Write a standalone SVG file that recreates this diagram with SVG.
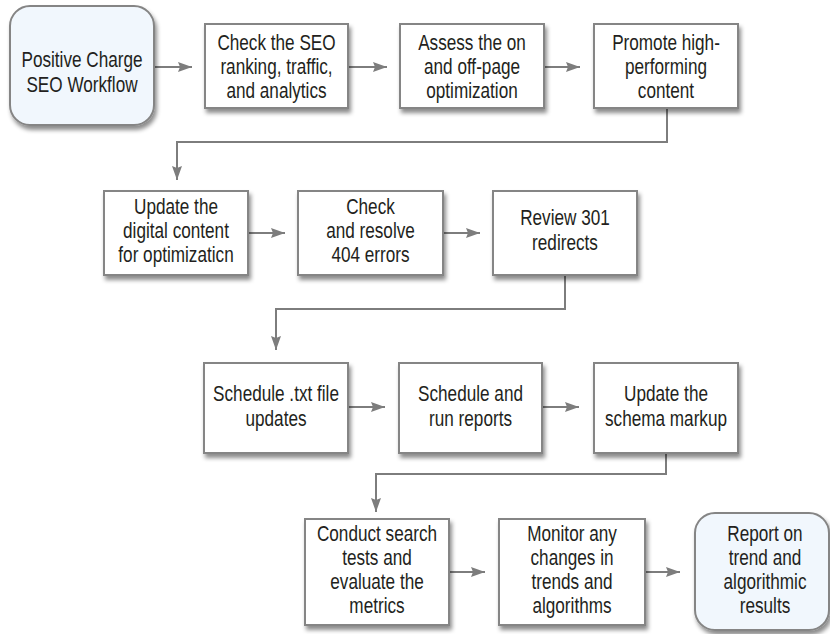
<svg xmlns="http://www.w3.org/2000/svg" width="830" height="634" viewBox="0 0 830 634">
  <defs>
    <filter id="shadow" x="-10%" y="-10%" width="130%" height="140%">
      <feDropShadow dx="2" dy="4" stdDeviation="2.2" flood-color="#000" flood-opacity="0.45"/>
    </filter>
    <marker id="arrow" viewBox="0 0 14 10" refX="14" refY="5" markerWidth="14" markerHeight="10" markerUnits="userSpaceOnUse" orient="auto">
      <path d="M0,0 L14,5 L0,10 L2,5 z" fill="#7d7d7d"/>
    </marker>
  </defs>
  <style>
    .box { fill: #ffffff; stroke: #858585; stroke-width: 2; filter: url(#shadow); }
    .term { fill: #f1f7fd; stroke: #858585; stroke-width: 2; filter: url(#shadow); }
    .lbl { font-family: "Liberation Sans", Arial, sans-serif; font-size: 22px; fill: #231f20; text-anchor: middle; }
    .link { fill: none; stroke: #7d7d7d; stroke-width: 2; marker-end: url(#arrow); }
  </style>
  <rect width="830" height="634" fill="#ffffff"/>

  <!-- connectors -->
  <g id="connectors">
    <path class="link" d="M155,67 H192"/>
    <path class="link" d="M348,67 H387"/>
    <path class="link" d="M544,67 H580"/>
    <path class="link" d="M667,108 V142 H177 V180"/>
    <path class="link" d="M248,233 H285"/>
    <path class="link" d="M443,233 H480"/>
    <path class="link" d="M565,275 V309 H276 V350"/>
    <path class="link" d="M348,407 H385"/>
    <path class="link" d="M542,407 H579"/>
    <path class="link" d="M666,453 V474 H376 V512"/>
    <path class="link" d="M449,572 H485"/>
    <path class="link" d="M645,572 H680"/>
  </g>

  <!-- labels use a horizontally condensed sans: each label block is centred with translate and narrowed with scale -->

  <!-- row 1 -->
  <g id="start">
    <rect class="term" x="10" y="6" width="144" height="119" rx="20"/>
    <g transform="translate(82 0) scale(0.78 1)">
      <text class="lbl" x="0" y="67">Positive Charge</text>
      <text class="lbl" x="0" y="92">SEO Workflow</text>
    </g>
  </g>
  <g id="check-seo">
    <rect class="box" x="205" y="24" width="143" height="84"/>
    <g transform="translate(276.5 0) scale(0.78 1)">
      <text class="lbl" x="0" y="50">Check the SEO</text>
      <text class="lbl" x="0" y="74">ranking, traffic,</text>
      <text class="lbl" x="0" y="98">and analytics</text>
    </g>
  </g>
  <g id="assess">
    <rect class="box" x="400" y="24" width="144" height="84"/>
    <g transform="translate(472 0) scale(0.78 1)">
      <text class="lbl" x="0" y="50">Assess the on</text>
      <text class="lbl" x="0" y="74">and off-page</text>
      <text class="lbl" x="0" y="98">optimization</text>
    </g>
  </g>
  <g id="promote">
    <rect class="box" x="594" y="24" width="144" height="84"/>
    <g transform="translate(666 0) scale(0.78 1)">
      <text class="lbl" x="0" y="50">Promote high-</text>
      <text class="lbl" x="0" y="74">performing</text>
      <text class="lbl" x="0" y="98">content</text>
    </g>
  </g>

  <!-- row 2 -->
  <g id="update-content">
    <rect class="box" x="104" y="191" width="144" height="84"/>
    <g transform="translate(176 0) scale(0.78 1)">
      <text class="lbl" x="0" y="214">Update the</text>
      <text class="lbl" x="0" y="238">digital content</text>
      <text class="lbl" x="0" y="262">for optimizaticn</text>
    </g>
  </g>
  <g id="resolve-404">
    <rect class="box" x="298" y="191" width="145" height="84"/>
    <g transform="translate(370.5 0) scale(0.78 1)">
      <text class="lbl" x="0" y="214">Check</text>
      <text class="lbl" x="0" y="238">and resolve</text>
      <text class="lbl" x="0" y="262">404 errors</text>
    </g>
  </g>
  <g id="review-301">
    <rect class="box" x="493" y="191" width="144" height="84"/>
    <g transform="translate(565 0) scale(0.78 1)">
      <text class="lbl" x="0" y="225">Review 301</text>
      <text class="lbl" x="0" y="250">redirects</text>
    </g>
  </g>

  <!-- row 3 -->
  <g id="schedule-txt">
    <rect class="box" x="204" y="363" width="144" height="90"/>
    <g transform="translate(276 0) scale(0.78 1)">
      <text class="lbl" x="0" y="401">Schedule .txt file</text>
      <text class="lbl" x="0" y="426">updates</text>
    </g>
  </g>
  <g id="schedule-reports">
    <rect class="box" x="399" y="363" width="143" height="90"/>
    <g transform="translate(470.5 0) scale(0.78 1)">
      <text class="lbl" x="0" y="401">Schedule and</text>
      <text class="lbl" x="0" y="426">run reports</text>
    </g>
  </g>
  <g id="schema">
    <rect class="box" x="594" y="363" width="144" height="90"/>
    <g transform="translate(666 0) scale(0.78 1)">
      <text class="lbl" x="0" y="401">Update the</text>
      <text class="lbl" x="0" y="426">schema markup</text>
    </g>
  </g>

  <!-- row 4 -->
  <g id="search-tests">
    <rect class="box" x="305" y="519" width="144" height="106"/>
    <g transform="translate(377 0) scale(0.78 1)">
      <text class="lbl" x="0" y="541">Conduct search</text>
      <text class="lbl" x="0" y="565">tests and</text>
      <text class="lbl" x="0" y="589">evaluate the</text>
      <text class="lbl" x="0" y="613">metrics</text>
    </g>
  </g>
  <g id="monitor">
    <rect class="box" x="499" y="519" width="146" height="106"/>
    <g transform="translate(572 0) scale(0.78 1)">
      <text class="lbl" x="0" y="541">Monitor any</text>
      <text class="lbl" x="0" y="565">changes in</text>
      <text class="lbl" x="0" y="589">trends and</text>
      <text class="lbl" x="0" y="613">algorithms</text>
    </g>
  </g>
  <g id="report">
    <rect class="term" x="695" y="513" width="134" height="117" rx="20"/>
    <g transform="translate(765 0) scale(0.78 1)">
      <text class="lbl" x="0" y="541">Report on</text>
      <text class="lbl" x="0" y="565">trend and</text>
      <text class="lbl" x="0" y="589">algorithmic</text>
      <text class="lbl" x="0" y="613">results</text>
    </g>
  </g>
</svg>
